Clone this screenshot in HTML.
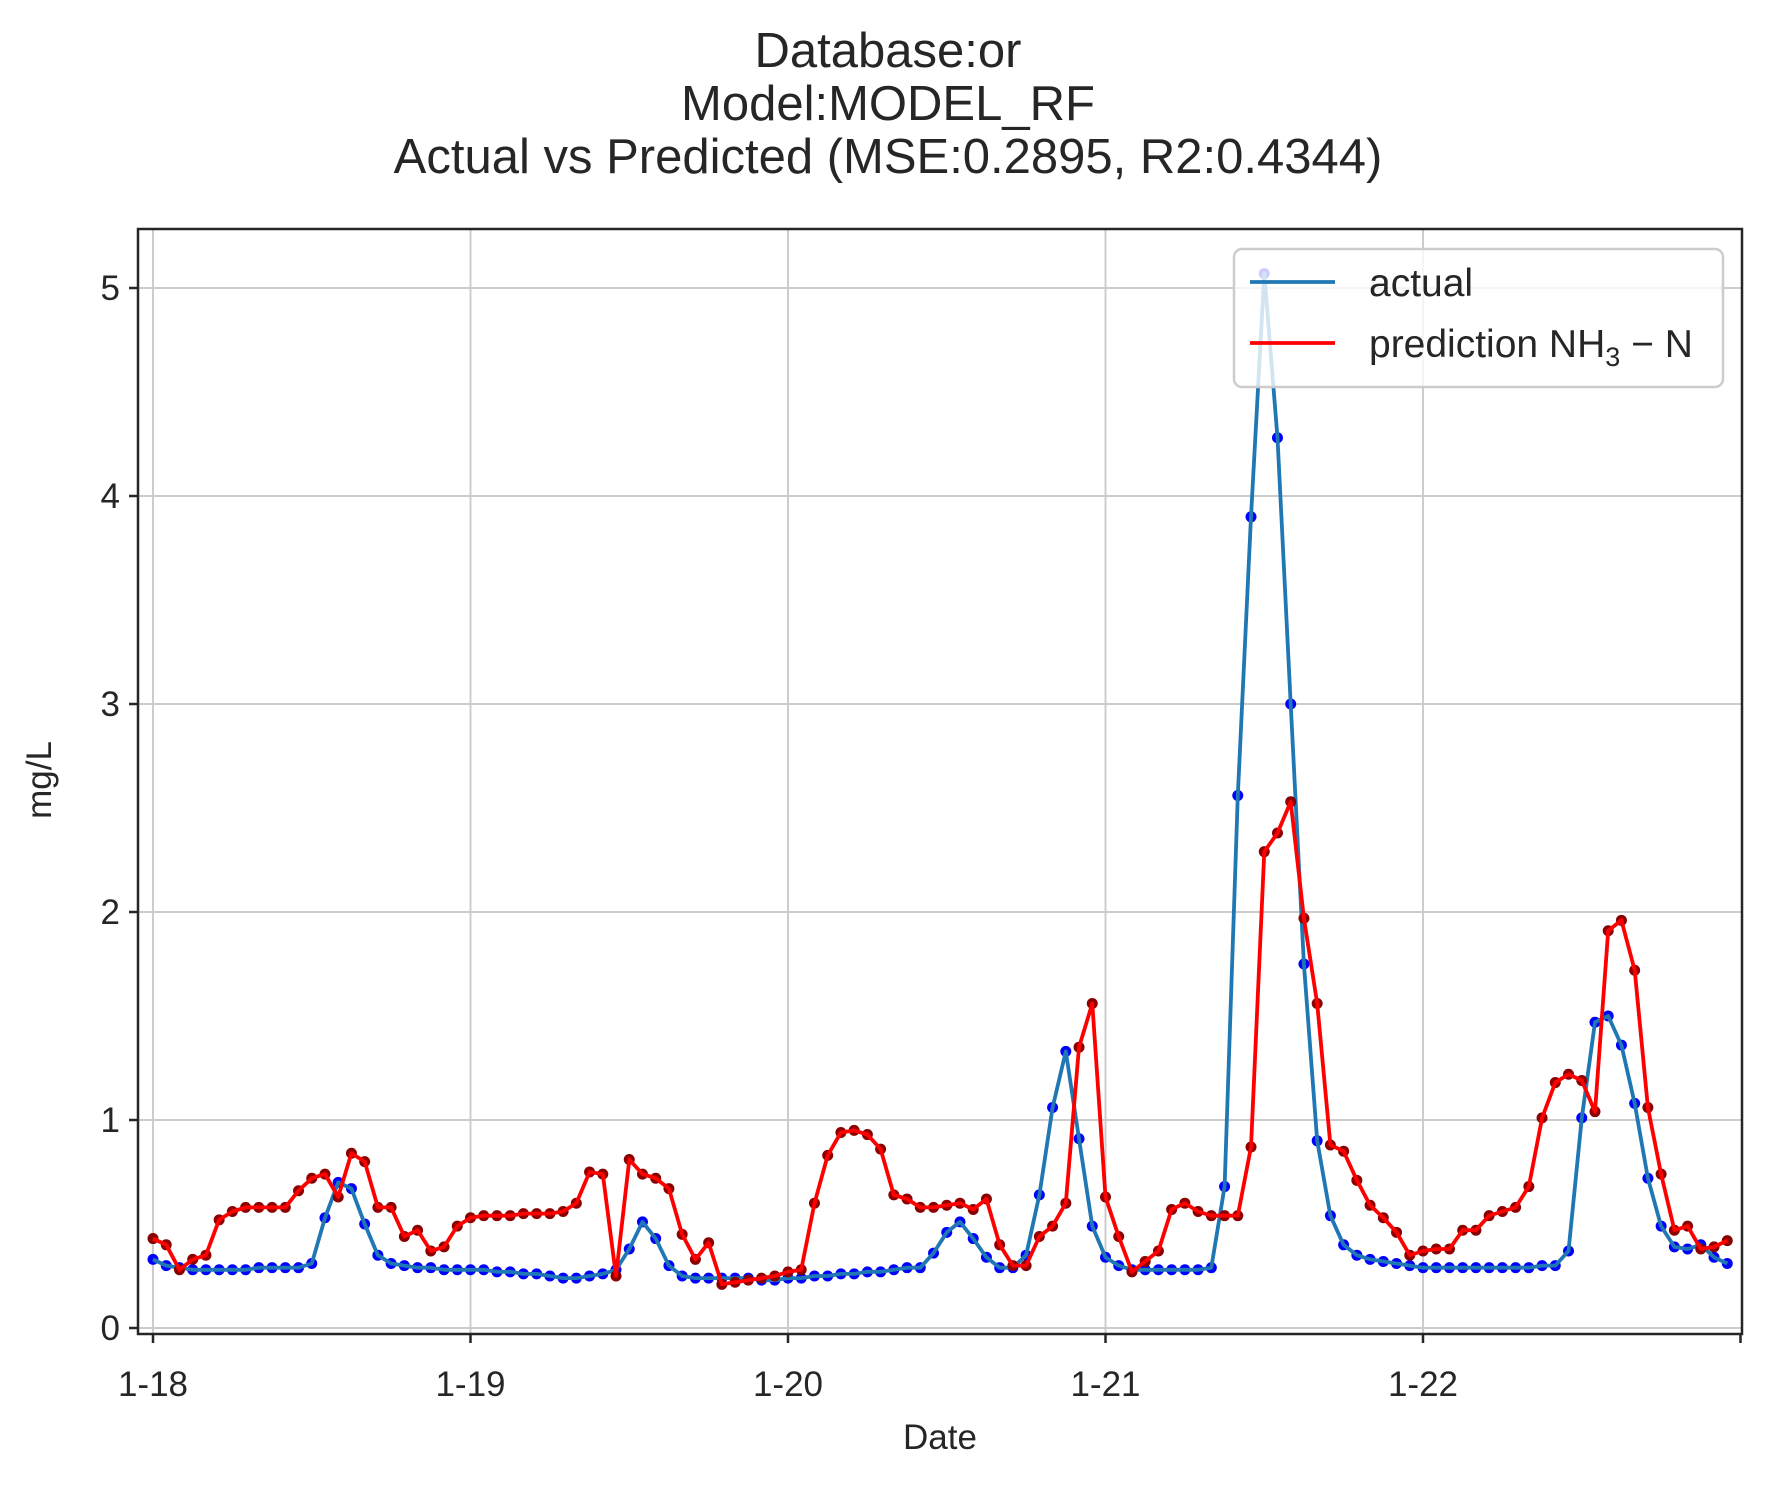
<!DOCTYPE html>
<html><head><meta charset="utf-8"><style>
html,body{margin:0;padding:0;background:#fff;}
svg{display:block;font-family:"Liberation Sans",Arial,sans-serif;}
</style></head><body>
<svg id="chart" width="1770" height="1486" viewBox="0 0 1770 1486" xmlns="http://www.w3.org/2000/svg">
<rect x="0" y="0" width="1770" height="1486" fill="#fff"/>
<g fill="#262626" font-size="49" text-anchor="middle">
<text x="888" y="67">Database:or</text>
<text x="888" y="120">Model:MODEL_RF</text>
<text x="888" y="173">Actual vs Predicted (MSE:0.2895, R2:0.4344)</text>
</g>
<g id="grid"></g>
<g id="series"></g>
<rect x="138" y="229" width="1604" height="1105" fill="none" stroke="#262626" stroke-width="2.5"/>
<g id="ticks"></g>
<text x="51" y="780" transform="rotate(-90 51 780)" text-anchor="middle" font-size="35" fill="#262626">mg/L</text>
<text x="940" y="1449" text-anchor="middle" font-size="35" fill="#262626">Date</text>
<g>
<rect x="1234" y="249" width="489" height="138" rx="8" fill="#fff" fill-opacity="0.8" stroke="#cccccc" stroke-width="2.5"/>
<line x1="1250" y1="282" x2="1335" y2="282" stroke="#1f77b4" stroke-width="3.8"/>
<text x="1369" y="296" font-size="39" fill="#262626">actual</text>
<line x1="1250" y1="343" x2="1335" y2="343" stroke="#ff0000" stroke-width="3.8"/>
<text x="1369" y="357" font-size="39" fill="#262626">prediction NH<tspan font-size="27" dy="9">3</tspan><tspan dy="-9"> − N</tspan></text>
</g>
</svg>
<script>
const actualValues = [0.33,0.30,0.29,0.28,0.28,0.28,0.28,0.28,0.29,0.29,0.29,0.29,0.31,0.53,0.70,0.67,0.50,0.35,0.31,
0.30,0.29,0.29,0.28,0.28,0.28,0.28,0.27,0.27,0.26,0.26,0.25,0.24,0.24,0.25,0.26,0.28,
0.38,0.51,0.43,0.30,0.25,0.24,0.24,0.24,0.24,0.24,0.23,0.23,0.24,0.24,0.25,0.25,0.26,0.26,0.27,0.27,0.28,0.29,0.29,0.36,0.46,0.51,0.43,0.34,0.29,0.29,0.35,0.64,1.06,
1.33,0.91,0.49,0.34,0.30,0.28,0.28,0.28,0.28,0.28,0.28,0.29,0.68,2.56,3.90,5.07,4.28,3.00,1.75,0.90,0.54,0.40,0.35,0.33,0.32,0.31,0.30,
0.29,0.29,0.29,0.29,0.29,0.29,0.29,0.29,0.29,0.30,0.30,0.37,1.01,1.47,1.50,1.36,1.08,0.72,0.49,0.39,0.38,0.40,0.34,0.31];
const predictedValues = [0.43,0.40,0.28,0.33,0.35,0.52,0.56,0.58,0.58,0.58,0.58,0.66,0.72,0.74,0.63,0.84,0.80,0.58,0.58,0.44,0.47,0.37,0.39,0.49,0.53,0.54,0.54,0.54,0.55,0.55,0.55,0.56,0.60,0.75,0.74,0.25,
0.81,0.74,0.72,0.67,0.45,0.33,0.41,0.21,0.22,0.23,0.24,0.25,0.27,0.28,0.60,0.83,0.94,0.95,0.93,0.86,0.64,0.62,0.58,0.58,0.59,0.60,0.57,0.62,0.40,0.30,0.30,0.44,0.49,0.60,
1.35,1.56,0.63,0.44,0.27,0.32,0.37,0.57,0.60,0.56,0.54,0.54,0.54,0.87,2.29,2.38,2.53,1.97,1.56,0.88,0.85,0.71,0.59,0.53,0.46,0.35,0.37,
0.38,0.38,0.47,0.47,0.54,0.56,0.58,0.68,1.01,1.18,1.22,1.19,1.04,1.91,1.96,1.72,1.06,0.74,0.47,0.49,0.38,0.39,0.42];
const xTickLabels = ["1-18","1-19","1-20","1-21","1-22",""];
const yTickValues = [0,1,2,3,4,5];

const NS = "http://www.w3.org/2000/svg";
function xScale(hour){ return 153 + hour * 317.5 / 24; }
function yScale(v){ return 1328 - v * 208; }
function mk(tag, attrs, parent){ const e=document.createElementNS(NS,tag); for(const k in attrs) e.setAttribute(k,attrs[k]); parent.appendChild(e); return e; }

const grid=document.getElementById('grid'), ticks=document.getElementById('ticks'), series=document.getElementById('series');
yTickValues.forEach(v=>{
  const y=yScale(v);
  const g=mk('line',{x1:138,x2:1742,y1:y,y2:y,stroke:'#cccccc','stroke-width':2},grid);
  
  
  const t=mk('line',{x1:129,x2:138,y1:y,y2:y,stroke:'#262626','stroke-width':2.5},ticks);
  
  
  const l=mk('text',{x:120,y:y+12,'text-anchor':'end','font-size':35,fill:'#262626'},ticks);
  l.textContent=String(v);
  
  
});
xTickLabels.forEach((lab,d)=>{
  const x=xScale(d*24);
  if(d<5){
    const g=mk('line',{x1:x,x2:x,y1:229,y2:1334,stroke:'#cccccc','stroke-width':2},grid);
    
    
  }
  const t=mk('line',{x1:x,x2:x,y1:1334,y2:1343,stroke:'#262626','stroke-width':2.5},ticks);
  
  
  if(lab){
    const l=mk('text',{x:x,y:1396,'text-anchor':'middle','font-size':35,fill:'#262626'},ticks);
    l.textContent=lab;
    
    
  }
});
function drawSeries(vals, lineColor, dotColor, name){
  vals.forEach((v,i)=>{
    const c=mk('circle',{cx:xScale(i),cy:yScale(v),r:5.5,fill:dotColor},series);
    
    
  });
  const pts=vals.map((v,i)=>xScale(i).toFixed(1)+','+yScale(v).toFixed(1)).join(' ');
  const p=mk('polyline',{points:pts,fill:'none',stroke:lineColor,'stroke-width':3.8,'stroke-linejoin':'round'},series);
  
  
}
drawSeries(actualValues,'#1f77b4','#0000ff','actual');
drawSeries(predictedValues,'#ff0000','#8b0000','prediction');
</script>
</body></html>
